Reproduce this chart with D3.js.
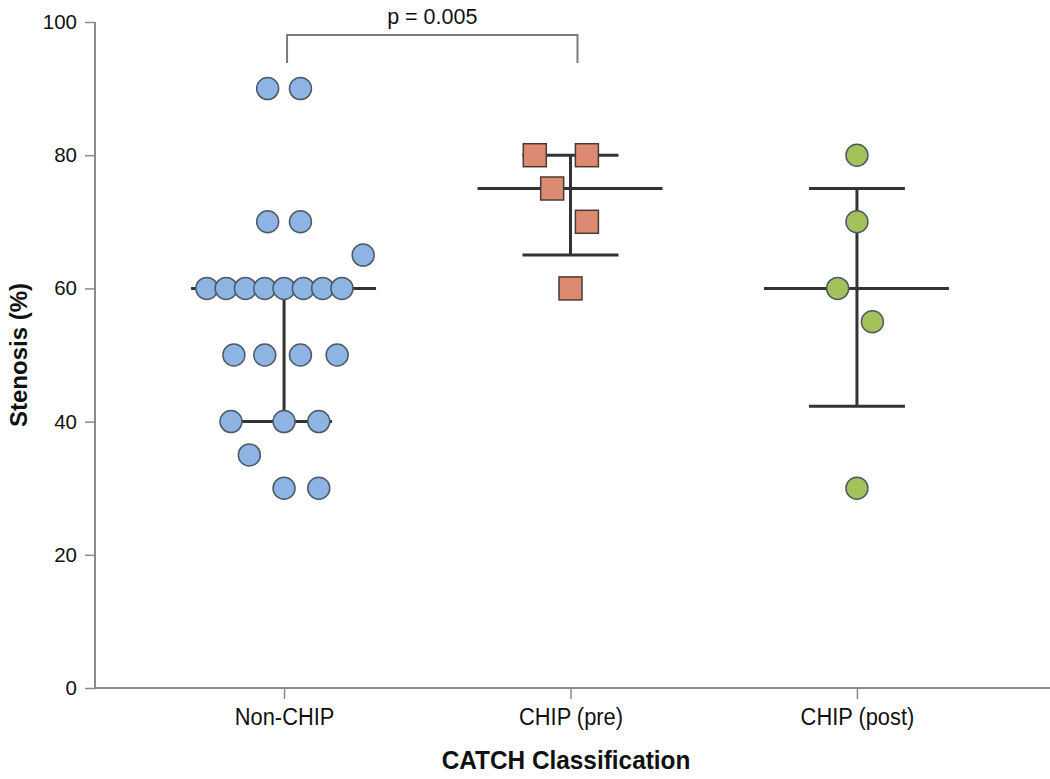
<!DOCTYPE html>
<html><head><meta charset="utf-8">
<script src="https://cdn.jsdelivr.net/npm/d3@7"></script>
<style>body{margin:0;background:#fff}svg{display:block}text{font-family:"Liberation Sans",Arial,sans-serif}</style>
</head><body><div id="chart"></div>
<script>
// ---- data ----
const categories = ["Non-CHIP", "CHIP (pre)", "CHIP (post)"];
const nonChipValues = [90, 90, 70, 70, 65, 60, 60, 60, 60, 60, 60, 60, 60, 50, 50, 50, 50, 40, 40, 40, 35, 30, 30];
const nonChipSlot   = [-0.85, 0.85, -0.85, 0.85, 4.1, -4, -3, -2, -1, 0, 1, 2, 3, -2.6, -1, 0.85, 2.75, -2.75, 0, 1.8, -1.8, 0, 1.8];
const chipPreValues = [80, 80, 75, 70, 60];
const chipPreSlot   = [-1.85, 0.85, -0.95, 0.85, 0];
const chipPostValues = [80, 70, 60, 55, 30];
const chipPostSlot   = [0, 0, -1, 0.8, 0];
const centerValues = [60, 75, 60];
const lowerValues  = [40, 65, 42.3];
const upperValues  = [60, 80, 75];
const yTicks = [0, 20, 40, 60, 80, 100];
const pLabel = "p = 0.005";

const W = 1050, H = 779;
const svg = d3.select("#chart").append("svg").attr("width", W).attr("height", H);
const x = d3.scalePoint().domain(categories).range([95, 1046]).padding(0.66);
const y = d3.scaleLinear().domain([0, 100]).range([688, 22]);
const slotW = 19.3, r = 11, sq = 23;
const axisColor = "#8a8a8a", lineColor = "#333";

// axes
const yAxis = svg.append("g").attr("transform", "translate(95,0)")
  .call(d3.axisLeft(y).tickValues(yTicks).tickSize(10).tickPadding(8));
yAxis.select(".domain").attr("stroke", axisColor).attr("stroke-width", 2).attr("d", `M0,${y(100)}V${y(0)}`);
yAxis.selectAll(".tick line").attr("stroke", axisColor).attr("stroke-width", 1.5);
yAxis.selectAll(".tick text").attr("font-size", 20.5).attr("fill", "#111").attr("font-family", "Liberation Sans, Arial, sans-serif");

const xAxis = svg.append("g").attr("transform", `translate(0,${y(0)})`)
  .call(d3.axisBottom(x).tickSize(11).tickPadding(12));
xAxis.select(".domain").attr("stroke", axisColor).attr("stroke-width", 2).attr("d", `M95,0H1050`);
xAxis.selectAll(".tick line").attr("stroke", axisColor).attr("stroke-width", 1.5);
xAxis.selectAll(".tick text").attr("font-size", 24).attr("fill", "#111").attr("font-family", "Liberation Sans, Arial, sans-serif")
  .attr("y", 37).attr("dy", 0).attr("transform", "scale(0.91,1)");

svg.append("text").attr("transform", `translate(27,${y(50)}) rotate(-90)`).attr("text-anchor", "middle")
  .attr("font-size", 24).attr("font-weight", "bold").attr("fill", "#111").text("Stenosis (%)");
svg.append("text").attr("transform", "translate(566,769) scale(0.92,1)").attr("text-anchor", "middle")
  .attr("font-size", 26.5).attr("font-weight", "bold").attr("fill", "#111").text("CATCH Classification");

// significance bracket
const bx1 = x(categories[0]) + 3, bx2 = x(categories[1]) + 7, by = 35;
svg.append("path").attr("d", `M${bx1},${by + 28}V${by}H${bx2}V${by + 28}`)
  .attr("fill", "none").attr("stroke", "#7a7a7a").attr("stroke-width", 2);
svg.append("text").attr("x", (bx1 + bx2) / 2).attr("y", 24).attr("text-anchor", "middle")
  .attr("font-size", 21.5).attr("fill", "#111").text(pLabel);

// error bars (drawn beneath markers)
const bars = svg.append("g");
categories.forEach((c, i) => {
  const cx = x(c);
  bars.append("line").attr("x1", cx).attr("x2", cx).attr("y1", y(upperValues[i])).attr("y2", y(lowerValues[i]))
    .attr("stroke", lineColor).attr("stroke-width", 3);
  [lowerValues[i], upperValues[i]].forEach(v => {
    bars.append("line").attr("x1", cx - 48).attr("x2", cx + 48).attr("y1", y(v)).attr("y2", y(v))
      .attr("stroke", lineColor).attr("stroke-width", 3);
  });
  bars.append("line").attr("x1", cx - 93).attr("x2", cx + 92).attr("y1", y(centerValues[i])).attr("y2", y(centerValues[i]))
    .attr("stroke", lineColor).attr("stroke-width", 3);
});

function drawCircles(cat, vals, slots, fill) {
  svg.append("g").selectAll("circle").data(vals).join("circle")
    .attr("cx", (d, i) => x(cat) + slots[i] * slotW).attr("cy", d => y(d)).attr("r", r)
    .attr("fill", fill).attr("stroke", "#4d5a66").attr("stroke-width", 1.5);
}
drawCircles(categories[0], nonChipValues, nonChipSlot, "#8eb4e3");
svg.append("g").selectAll("rect").data(chipPreValues).join("rect")
  .attr("x", (d, i) => x(categories[1]) + chipPreSlot[i] * slotW - sq / 2).attr("y", d => y(d) - sq / 2)
  .attr("width", sq).attr("height", sq)
  .attr("fill", "#dc8a72").attr("stroke", "#4a3a34").attr("stroke-width", 1.5);
drawCircles(categories[2], chipPostValues, chipPostSlot, "#a4c25a");
</script></body></html>
